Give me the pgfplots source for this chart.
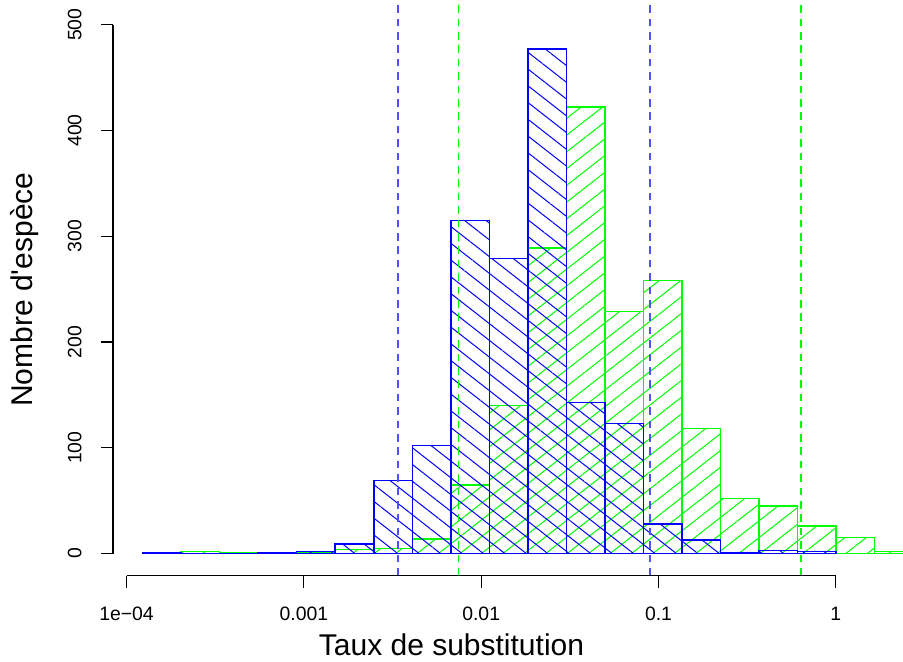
\documentclass[border=0pt]{standalone}
\usepackage{fontspec}
\setmainfont{Liberation Sans}
\usepackage{pgfplots}
\pgfplotsset{compat=1.18}
\usetikzlibrary{patterns.meta}
\definecolor{rblue}{RGB}{0,0,255}
\definecolor{rgreen}{RGB}{0,255,0}
\definecolor{lblue}{RGB}{80,80,255}
\begin{document}
\begin{tikzpicture}
\begin{axis}[
  scale only axis, width=395pt, height=287.5pt,
  xmin=-9.386, xmax=0.8726, ymin=-20.8, ymax=522.7,
  axis line style={draw=none},
  clip mode=individual,
  xtick={-9.21034,-6.90776,-4.60517,-2.30259,0},
  xticklabels={1e−04,0.001,0.01,0.1,1},
  ytick={0,100,200,300,400,500},
  xtick pos=bottom, ytick pos=left,
  tick align=outside, major tick length=6pt,
  every tick/.style={black, line width=0.6pt},
  /pgf/number format/assume math mode=true,
  ticklabel style={font=\fontsize{9.7}{11}\selectfont, inner sep=0pt},
  xticklabel style={anchor=north},
  yticklabel style={rotate=90, anchor=south},
  xticklabel shift=9.5pt,
  yticklabel shift=9.5pt,
  xlabel={Taux de substitution}, ylabel={Nombre d\textquotesingle espèce},
  label style={font=\fontsize{15}{18}\selectfont, inner sep=0pt},
  xlabel style={at={(rel axis cs:0.4285,0)}, anchor=base, yshift=-40pt},
  ylabel style={at={(rel axis cs:-0.10215,0.4974)}, anchor=base},
]
% green series (drawn first)
\addplot[ybar interval, draw=rgreen, line width=0.75pt,
  pattern={Lines[angle=38, distance=6.6pt, line width=0.5pt]}, pattern color=rgreen]
  coordinates {
  (-8.5,2) (-8,1) (-7.5,1) (-7,1) (-6.5,4) (-6,5) (-5.5,14) (-5,65)
  (-4.5,140) (-4,289) (-3.5,422) (-3,229) (-2.5,258) (-2,118) (-1.5,52)
  (-1,45) (-0.5,26) (0,15) (0.5,2) (1,2)
  };
% blue series
\addplot[ybar interval, draw=rblue, line width=0.75pt,
  pattern={Lines[angle=-38, distance=6.6pt, line width=0.5pt]}, pattern color=rblue]
  coordinates {
  (-9,1) (-8.5,0) (-8,0) (-7.5,1) (-7,2) (-6.5,9) (-6,69) (-5.5,102)
  (-5,315) (-4.5,279) (-4,477) (-3.5,143) (-3,123) (-2.5,28) (-2,13)
  (-1.5,1) (-1,3) (-0.5,2) (0,0)
  };
% quantile lines
\addplot[lblue, line width=0.6pt, dash pattern=on 3.8pt off 2.9pt] coordinates {(-5.685,-20.8) (-5.685,522.7)};
\addplot[lblue, line width=0.6pt, dash pattern=on 3.8pt off 2.9pt] coordinates {(-2.413,-20.8) (-2.413,522.7)};
\addplot[rgreen, line width=0.6pt, dash pattern=on 3.8pt off 2.9pt] coordinates {(-4.897,-20.8) (-4.897,522.7)};
\addplot[rgreen, line width=0.6pt, dash pattern=on 3.8pt off 2.9pt] coordinates {(-0.452,-20.8) (-0.452,522.7)};
% R-style axis lines
\draw[black, line width=0.6pt] (axis cs:-9.21034,-20.8) -- (axis cs:0,-20.8);
\draw[black, line width=0.6pt] (axis cs:-9.386,0) -- (axis cs:-9.386,500);
\path (rel axis cs:-0.14304,-0.14957) rectangle (rel axis cs:1,1);
\end{axis}
\end{tikzpicture}
\end{document}
